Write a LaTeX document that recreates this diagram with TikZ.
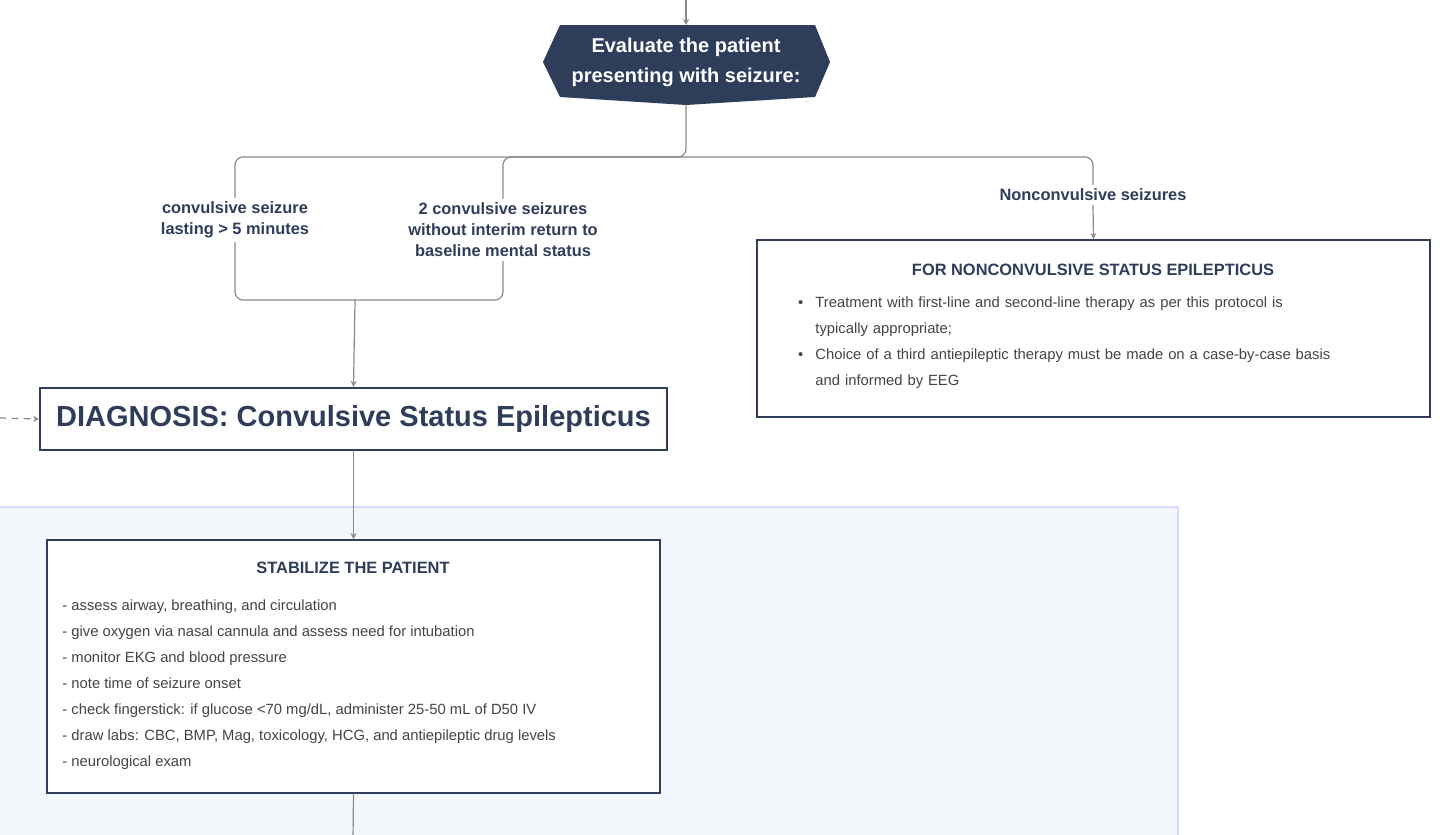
\documentclass[tikz,border=0pt]{standalone}
\usepackage{fontspec}
\setmainfont{Liberation Sans}
\usepackage{tikz}
\usetikzlibrary{calc,arrows.meta}
\definecolor{navy}{HTML}{2E3D5A}
\definecolor{wire}{HTML}{8A8A8A}
\definecolor{paleblue}{HTML}{F3F7FC}
\definecolor{txt}{HTML}{444444}

\begin{document}
\begin{tikzpicture}[x=0.5pt,y=-0.5pt,line cap=round]
	\tikzstyle{wire}=[draw=wire,line width=0.6pt,rounded corners=4pt];
	\tikzstyle{arr}=[wire,-{Stealth[length=3pt,width=3pt]}];
	\tikzstyle{lbl}=[fill=white,text=navy,font=\bfseries\fontsize{8.2}{10.5}\selectfont,align=center,inner sep=2pt];
	\tikzstyle{box}=[draw=navy,line width=1pt,fill=white];
	\tikzstyle{head}=[text=navy,font=\bfseries\fontsize{8.2}{10}\selectfont];
	\tikzstyle{item}=[text=txt,font=\fontsize{7.4}{13}\selectfont,align=left,anchor=north west,inner sep=0pt];

	\useasboundingbox (0,0) rectangle (1440,835);
	\fill[white] (0,0) rectangle (1440,835);
	% background panel
	\draw[fill=paleblue,draw=blue!15,line width=0.6pt] (-5,507) rectangle (1178,845);

	% top hexagon
	\coordinate (in) at (686,0);
	\fill[navy] (560,25) -- (815,25) -- (830,62) -- (815,97) -- (686,105) -- (560,97) -- (543,62) -- cycle;
	\node[text=white,font=\bfseries\fontsize{10}{15}\selectfont,align=center] (eval) at (686,62) {Evaluate the patient\\presenting with seizure:};
	\draw[arr] (in) -- (686,25);

	% branches
	\node[lbl] (conv) at (235,220) {convulsive seizure\\lasting > 5 minutes};
	\node[lbl] (two) at (503,230) {2 convulsive seizures\\without interim return to\\baseline mental status};
	\node[lbl] (nonc) at (1093,195) {Nonconvulsive seizures};
	\coordinate (split) at (686,105);
	\draw[wire] (split) -- (686,157) -- (235,157) -- (conv.north);
	\draw[wire] (686,157) -- (503,157) -- (two.north);
	\draw[wire] (686,157) -- (1093,157) -- (nonc.north);
	\coordinate (join) at (355,300);
	\draw[wire] (conv.south) -- (235,300) -- (503,300) -- (two.south);

	% diagnosis
	\node[box,minimum width=313.5pt,minimum height=31pt,text=navy,font=\bfseries\fontsize{14.5}{16}\selectfont] (diag) at (353.5,419) {DIAGNOSIS: Convulsive Status Epilepticus};
	\draw[arr] (join) -- (diag.north);
	\coordinate (side) at (0,418);
	\draw[arr,dashed] (side) -- (diag.west);

	% nonconvulsive box
	\node[box,minimum width=336.5pt,minimum height=88.5pt] (ncse) at (1093.5,328.5) {};
	\draw[arr] (nonc.south) -- (ncse.north);
	\node[head] at (1093,270) {FOR NONCONVULSIVE STATUS EPILEPTICUS};
	\node[item,text width=300pt] at (815,296) {%
		\makebox[0pt][r]{\textbullet\hspace{6pt}}Treatment with first-line and second-line therapy as per this protocol is\\ typically appropriate;\\
		\makebox[0pt][r]{\textbullet\hspace{6pt}}Choice of a third antiepileptic therapy must be made on a case-by-case basis\\ and informed by EEG};

	% stabilize box
	\node[box,minimum width=306.5pt,minimum height=126.5pt] (stab) at (353.5,666.5) {};
	\draw[arr] (diag.south) -- (stab.north);
	\node[head] at (353,568) {STABILIZE THE PATIENT};
	\node[item] at (62,599) {- assess airway, breathing, and circulation\\
		- give oxygen via nasal cannula and assess need for intubation\\
		- monitor EKG and blood pressure\\
		- note time of seizure onset\\
		- check fingerstick: if glucose <70 mg/dL, administer 25-50 mL of D50 IV\\
		- draw labs: CBC, BMP, Mag, toxicology, HCG, and antiepileptic drug levels\\
		- neurological exam};
	\coordinate (out) at (353,840);
	\draw[wire] (stab.south) -- (out);
\end{tikzpicture}
\end{document}
